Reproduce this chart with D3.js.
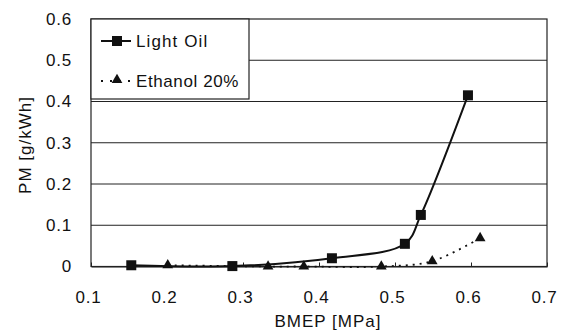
<!DOCTYPE html>
<html>
<head>
<meta charset="utf-8">
<script src="https://cdn.jsdelivr.net/npm/d3@7"></script>
<style>
  html, body { margin: 0; padding: 0; background: #fff; }
  svg { display: block; }
  text { font-family: "Liberation Sans", Arial, sans-serif; fill: #111; }
</style>
</head>
<body>
<svg id="chart" width="568" height="333"></svg>
<script>
// BMEP [MPa] vs particulate matter [g/kWh]
const lightOilBmep = [0.153, 0.286, 0.417, 0.513, 0.534, 0.596];
const lightOilPm   = [0.003, 0.001, 0.020, 0.055, 0.125, 0.415];
const ethanolBmep  = [0.201, 0.333, 0.380, 0.482, 0.549, 0.612];
const ethanolPm    = [0.003, 0.000, 0.000, 0.000, 0.013, 0.069];
const xTicks = [0.1, 0.2, 0.3, 0.4, 0.5, 0.6, 0.7];
const yTicks = [0, 0.1, 0.2, 0.3, 0.4, 0.5, 0.6];
const seriesNames = ["Light Oil", "Ethanol 20%"];

const svg = d3.select("#chart");
const m = { left: 91, right: 547, top: 19, bottom: 266.5 };
const FONT = "Liberation Sans, Arial, sans-serif";

const x = d3.scaleLinear().domain([0.1, 0.7]).range([m.left, m.right]);
const y = d3.scaleLinear().domain([0, 0.6]).range([m.bottom, m.top]);

// horizontal gridlines
svg.append("g")
  .selectAll("line")
  .data(yTicks.slice(1, -1))
  .join("line")
  .attr("x1", m.left).attr("x2", m.right)
  .attr("y1", d => y(d)).attr("y2", d => y(d))
  .attr("stroke", "#222").attr("stroke-width", 1);

// plot frame
svg.append("rect")
  .attr("x", m.left).attr("y", m.top)
  .attr("width", m.right - m.left).attr("height", m.bottom - m.top)
  .attr("fill", "none").attr("stroke", "#222").attr("stroke-width", 1.2);

// x axis: short inward ticks, labels below
const xAxis = d3.axisBottom(x).tickValues(xTicks).tickSizeInner(-4).tickSizeOuter(0)
  .tickPadding(24).tickFormat(d3.format(".1f"));
const gx = svg.append("g").attr("transform", `translate(0,${m.bottom})`).call(xAxis);
gx.select(".domain").attr("stroke", "#222").attr("stroke-width", 1.2);
gx.selectAll(".tick line").attr("stroke", "#222");
gx.selectAll(".tick text")
  .attr("font-size", 17).attr("letter-spacing", 0.8).attr("dx", -3)
  .attr("font-family", FONT).attr("fill", "#111");

// y axis labels
const yAxis = d3.axisLeft(y).tickValues(yTicks).tickSize(0).tickPadding(19)
  .tickFormat(d => d === 0 ? "0" : d3.format(".1f")(d));
const gy = svg.append("g").attr("transform", `translate(${m.left},0)`).call(yAxis);
gy.select(".domain").remove();
gy.selectAll(".tick text")
  .attr("font-size", 17).attr("letter-spacing", 0.8)
  .attr("font-family", FONT).attr("fill", "#111");

// axis titles
svg.append("text")
  .attr("x", 328).attr("y", 327)
  .attr("text-anchor", "middle").attr("font-size", 17).attr("letter-spacing", 1)
  .text("BMEP [MPa]");
svg.append("text")
  .attr("transform", "translate(31,145) rotate(-90)")
  .attr("text-anchor", "middle").attr("font-size", 17).attr("letter-spacing", 1)
  .text("PM [g/kWh]");

const lineGen = d3.line()
  .x(d => x(d[0])).y(d => y(d[1]))
  .curve(d3.curveCatmullRom.alpha(0.5));

const oil = lightOilBmep.map((b, i) => [b, lightOilPm[i]]);
const eth = ethanolBmep.map((b, i) => [b, ethanolPm[i]]);

// Ethanol 20% — dotted curve with triangles
svg.append("path").datum(eth)
  .attr("d", lineGen).attr("fill", "none")
  .attr("stroke", "#111").attr("stroke-width", 1.8)
  .attr("stroke-dasharray", "2,5");

const tri = d3.symbol().type(d3.symbolTriangle).size(50);
svg.append("g").selectAll("path").data(eth).join("path")
  .attr("d", tri)
  .attr("transform", d => `translate(${x(d[0])},${y(d[1])})`)
  .attr("fill", "#111");

// Light Oil — solid curve with squares
svg.append("path").datum(oil)
  .attr("d", lineGen).attr("fill", "none")
  .attr("stroke", "#111").attr("stroke-width", 2);

svg.append("g").selectAll("rect").data(oil).join("rect")
  .attr("x", d => x(d[0]) - 5).attr("y", d => y(d[1]) - 5)
  .attr("width", 10).attr("height", 10)
  .attr("fill", "#111");

// legend
const lg = svg.append("g");
lg.append("rect")
  .attr("x", m.left).attr("y", m.top).attr("width", 158).attr("height", 80)
  .attr("fill", "#fff").attr("stroke", "#222").attr("stroke-width", 1.2);

lg.append("line").attr("x1", 101).attr("x2", 131).attr("y1", 41).attr("y2", 41)
  .attr("stroke", "#111").attr("stroke-width", 2);
lg.append("rect").attr("x", 112).attr("y", 36).attr("width", 10).attr("height", 10).attr("fill", "#111");
lg.append("text").attr("x", 136).attr("y", 47).attr("font-size", 17).attr("letter-spacing", 1.1)
  .text(seriesNames[0]);

lg.append("line").attr("x1", 101).attr("x2", 131).attr("y1", 81).attr("y2", 81)
  .attr("stroke", "#111").attr("stroke-width", 1.8).attr("stroke-dasharray", "2,7");
lg.append("path").attr("d", tri).attr("transform", "translate(117,80)").attr("fill", "#111");
lg.append("text").attr("x", 136).attr("y", 87).attr("font-size", 17).attr("letter-spacing", 0.6)
  .text(seriesNames[1]);
</script>
</body>
</html>
